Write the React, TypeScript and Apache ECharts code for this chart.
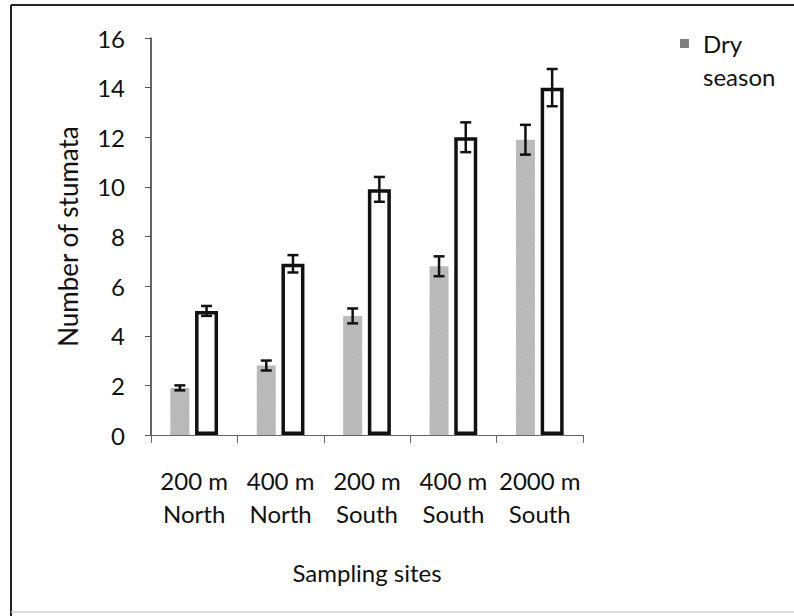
import React, { useEffect, useRef } from "react";
import * as echarts from "echarts";

const categories = ["200 m\nNorth", "400 m\nNorth", "200 m\nSouth", "400 m\nSouth", "2000 m\nSouth"];
const drySeason = [1.9, 2.8, 4.8, 6.8, 11.9];
const dryError = [0.1, 0.2, 0.3, 0.4, 0.6];
const wetSeason = [5.0, 6.9, 9.9, 12.0, 14.0];
const wetError = [0.2, 0.35, 0.5, 0.6, 0.75];
const yTicks = { min: 0, max: 16, interval: 2 };

const DRY_W = 19;
const WET_W = 23;
const GAP = 0.3;
const FONT = "Lato, 'Open Sans', sans-serif";

export default function App() {
  const ref = useRef<HTMLDivElement>(null);
  useEffect(() => {
    if (!ref.current) return;
    const chart = echarts.init(ref.current, undefined, { renderer: "svg" });
    const widthSum = DRY_W * (1 + GAP) + WET_W;
    const dryOffset = -widthSum / 2 + DRY_W / 2;
    const wetOffset = -widthSum / 2 + DRY_W * (1 + GAP) + WET_W / 2;
    const errStyle = { stroke: "#111", lineWidth: 2.5 };
    const makeRender = (offset: number) => (params: any, api: any) => {
      const i = api.value(0);
      const lo = api.coord([i, api.value(1)]);
      const hi = api.coord([i, api.value(2)]);
      const x = lo[0] + offset;
      const cap = 5.5;
      return {
        type: "group",
        children: [
          { type: "line", shape: { x1: x, y1: lo[1], x2: x, y2: hi[1] }, style: errStyle },
          { type: "line", shape: { x1: x - cap, y1: lo[1], x2: x + cap, y2: lo[1] }, style: errStyle },
          { type: "line", shape: { x1: x - cap, y1: hi[1], x2: x + cap, y2: hi[1] }, style: errStyle },
        ],
      };
    };
    const dryErrData = drySeason.map((v, i) => [i, v - dryError[i], v + dryError[i]]);
    const wetErrData = wetSeason.map((v, i) => [i, v - wetError[i], v + wetError[i]]);

    chart.setOption({
      animation: false,
      backgroundColor: "#fff",
      textStyle: { fontFamily: FONT, color: "#111" },
      grid: { left: 151, right: 211, top: 38, bottom: 181 },
      legend: {
        data: [{ name: "Dry season", itemStyle: { color: "#7e7e7e" } }],
        left: 680,
        top: 27,
        padding: 0,
        itemWidth: 18,
        itemHeight: 42,
        icon: "path://M0,0L9,0L9,9L0,9Z M18,42L18.1,42L18.1,42.1L18,42.1Z",
        formatter: () => "Dry\nseason",
        textStyle: { fontFamily: FONT, fontSize: 24, lineHeight: 33, color: "#111" },
      },
      xAxis: {
        type: "category",
        data: categories,
        name: "Sampling sites",
        nameLocation: "middle",
        nameGap: 125,
        nameTextStyle: { fontFamily: FONT, fontSize: 24, color: "#111" },
        axisLine: { lineStyle: { color: "#666", width: 1 } },
        axisTick: { show: true, length: 8, lineStyle: { color: "#666" } },
        axisLabel: { fontFamily: FONT, fontSize: 24, lineHeight: 33, color: "#111", margin: 29, interval: 0 },
      },
      yAxis: {
        type: "value",
        min: yTicks.min,
        max: yTicks.max,
        interval: yTicks.interval,
        name: "Number of stumata",
        nameLocation: "middle",
        nameGap: 70,
        nameTextStyle: { fontFamily: FONT, fontSize: 26, color: "#111" },
        axisLine: { show: true, lineStyle: { color: "#333", width: 1.5 } },
        axisTick: { show: true, length: 6, lineStyle: { color: "#555" } },
        axisLabel: { fontFamily: FONT, fontSize: 24, color: "#111", margin: 26 },
        splitLine: { show: false },
      },
      series: [
        {
          name: "Dry season",
          type: "bar",
          data: drySeason,
          barWidth: DRY_W,
          barGap: GAP * 100 + "%",
          itemStyle: {
            color: "#bababa",
            decal: {
              symbol: "rect",
              symbolSize: 0.6,
              color: "rgba(90,90,90,0.35)",
              dashArrayX: [1, 3],
              dashArrayY: [1, 4],
              rotation: 0.6,
            },
          },
        },
        {
          name: "Wet season",
          type: "bar",
          data: wetSeason,
          barWidth: WET_W,
          itemStyle: { color: "#ffffff", borderColor: "#111", borderWidth: 3.5 },
        },
        {
          name: "Dry error",
          type: "custom",
          data: dryErrData,
          encode: { x: 0, y: [1, 2] },
          renderItem: makeRender(dryOffset),
          z: 5,
        },
        {
          name: "Wet error",
          type: "custom",
          data: wetErrData,
          encode: { x: 0, y: [1, 2] },
          renderItem: makeRender(wetOffset),
          z: 5,
        },
      ],
      graphic: [
        { type: "line", shape: { x1: 11, y1: 5, x2: 794, y2: 5 }, style: { stroke: "#222", lineWidth: 2 } },
        { type: "line", shape: { x1: 11, y1: 5, x2: 11, y2: 616 }, style: { stroke: "#222", lineWidth: 2 } },
        { type: "line", shape: { x1: 11, y1: 612, x2: 794, y2: 612 }, style: { stroke: "#ccc", lineWidth: 1.5 } },
      ],
    });
    return () => chart.dispose();
  }, []);
  return (
    <div
      ref={ref}
      style={{ position: "fixed", left: 0, top: 0, width: 794, height: 616, background: "#fff" }}
    />
  );
}
